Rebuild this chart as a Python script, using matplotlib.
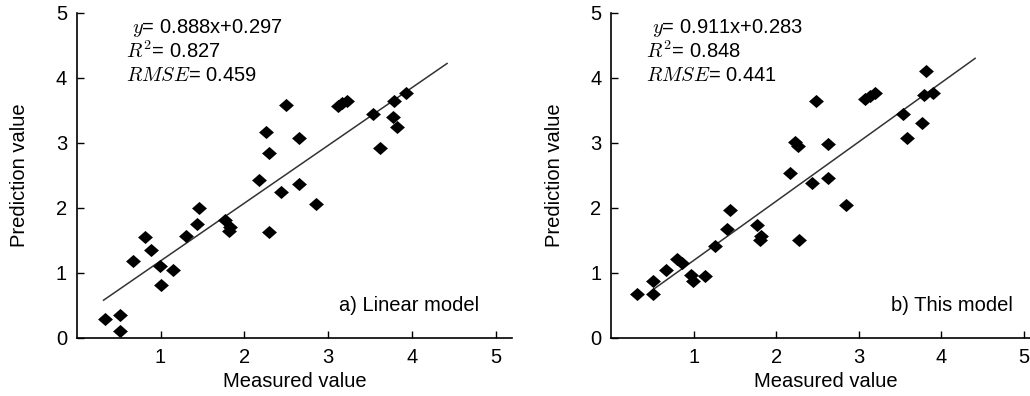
import numpy as np
import matplotlib
matplotlib.use('Agg')
from matplotlib import pyplot as plt

plt.rcParams['font.family'] = ['Liberation Sans', 'DejaVu Sans']
plt.rcParams['mathtext.fontset'] = 'cm'

# a) linear model
meas_a = [0.34, 0.52, 0.52, 0.67, 0.81, 0.89, 0.99, 1.01, 1.15, 1.30, 1.43,
          1.46, 1.77, 1.83, 1.82, 2.18, 2.26, 2.29, 2.29, 2.44, 2.50, 2.65,
          2.65, 2.85, 3.12, 3.16, 3.22, 3.53, 3.62, 3.79, 3.78, 3.82, 3.93]
pred_a = [0.29, 0.36, 0.10, 1.19, 1.56, 1.36, 1.10, 0.82, 1.04, 1.57, 1.76,
          2.00, 1.82, 1.71, 1.64, 2.43, 3.17, 2.85, 1.63, 2.24, 3.58, 3.07,
          2.37, 2.06, 3.57, 3.61, 3.64, 3.44, 2.92, 3.64, 3.40, 3.25, 3.76]
fit_a = (0.888, 0.297)
fit_range_a = (0.32, 4.42)
stats_a = ('0.888x+0.297', '0.827', '0.459')

# b) this model
meas_b = [0.31, 0.50, 0.50, 0.66, 0.80, 0.86, 0.96, 0.99, 1.13, 1.26, 1.40,
          1.44, 1.76, 1.81, 1.80, 2.16, 2.23, 2.26, 2.27, 2.43, 2.48, 2.63,
          2.63, 2.85, 3.08, 3.14, 3.20, 3.53, 3.59, 3.82, 3.79, 3.77, 3.90]
pred_b = [0.67, 0.67, 0.88, 1.04, 1.21, 1.15, 0.97, 0.88, 0.95, 1.41, 1.67,
          1.97, 1.73, 1.57, 1.51, 2.53, 3.02, 2.95, 1.51, 2.38, 3.64, 2.99,
          2.46, 2.04, 3.67, 3.72, 3.77, 3.45, 3.08, 4.11, 3.74, 3.30, 3.77]
fit_b = (0.911, 0.283)
fit_range_b = (0.52, 4.41)
stats_b = ('0.911x+0.283', '0.848', '0.441')

diamond = [(-1, 0), (0, 0.88), (1, 0), (0, -0.88), (-1, 0)]

fig = plt.figure(figsize=(10.3, 3.96), dpi=100)
ax1 = fig.add_axes([0.0745, 0.1465, 0.423, 0.821])
ax2 = fig.add_axes([0.5935, 0.1465, 0.4165, 0.821])

fs = 14.5
panels = [(ax1, meas_a, pred_a, fit_a, fit_range_a, stats_a, 'a) Linear model', (0.126, 0.114), 0.923),
          (ax2, meas_b, pred_b, fit_b, fit_range_b, stats_b, 'b) This model', (0.096, 0.082), 0.935)]

for ax, x, y, fit, rng, st, lab, tx, lx in panels:
    ax.scatter(x, y, marker=diamond, s=115, c='black', linewidths=0, zorder=3)
    xx = np.array(rng)
    ax.plot(xx, fit[0] * xx + fit[1], color='#333333', lw=1.1)
    ax.set_xlim(0, 5.2)
    ax.set_ylim(0, 5)
    ax.set_xticks([1, 2, 3, 4, 5])
    ax.set_yticks([0, 1, 2, 3, 4, 5])
    for s in ['top', 'right']:
        ax.spines[s].set_visible(False)
    for s in ['left', 'bottom']:
        ax.spines[s].set_linewidth(1.2)
    ax.tick_params(direction='in', length=5, width=1.0, labelsize=fs, pad=7)
    ax.set_xlabel('Measured value', fontsize=fs, labelpad=4)
    ax.set_ylabel('Prediction value', fontsize=fs, labelpad=19)

    ax.text(tx[0], 0.955, r'$y$= ' + st[0], transform=ax.transAxes, fontsize=fs, va='center')
    ax.text(tx[1], 0.882, r'$R^2$= ' + st[1], transform=ax.transAxes, fontsize=fs, va='center')
    ax.text(tx[1], 0.806, r'$RMSE$= ' + st[2], transform=ax.transAxes, fontsize=fs, va='center')
    ax.text(lx, 0.10, lab, transform=ax.transAxes, fontsize=fs, ha='right', va='center')

fig.savefig('out.png', dpi=100)
